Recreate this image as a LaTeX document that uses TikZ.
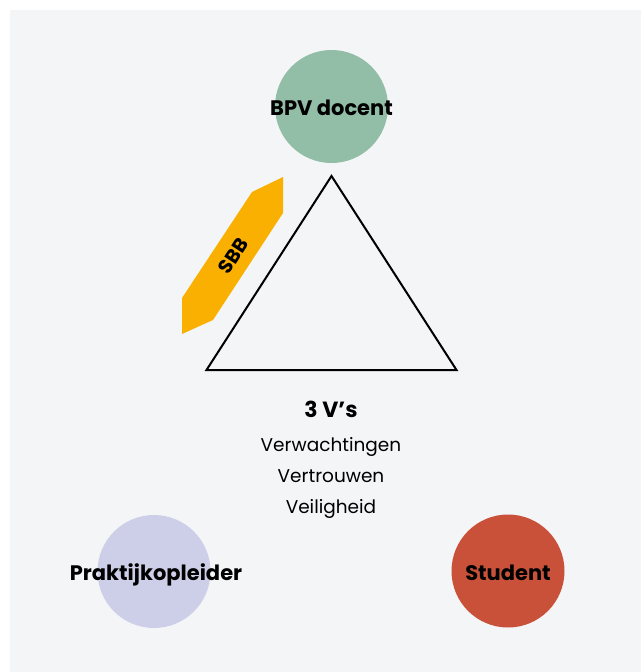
\documentclass[tikz,border=0pt]{standalone}
\usepackage{fontspec}
\setmainfont{Poppins}
\definecolor{bgc}{HTML}{F4F5F7}
\definecolor{greenc}{HTML}{92BDA7}
\definecolor{lavc}{HTML}{CDCFE9}
\definecolor{redc}{HTML}{C9513A}
\definecolor{yelc}{HTML}{F9B000}
\begin{document}
\begin{tikzpicture}[x=1pt,y=-1pt,
  role/.style={circle,minimum size=113pt,inner sep=0pt},
  rolelabel/.style={font=\fontsize{21}{24}\selectfont\bfseries,text=black,anchor=base,inner sep=0pt},
  plain/.style={font=\fontsize{18.5}{22}\selectfont,text=black,anchor=base,inner sep=0pt}]
\useasboundingbox (0,0) rectangle (641,672);
\fill[white] (0,0) rectangle (641,672);
\fill[bgc] (10,10) rectangle (641,672);
% circles
\node[role,fill=greenc] (bpv) at (331.5,106.5) {};
\node[role,fill=lavc] (pk) at (154,571.5) {};
\node[role,fill=redc] (st) at (508,571) {};
\node[rolelabel] (bpvt) at (331.5,115) {BPV docent};
\node[rolelabel] (pkt) at (156,580) {Praktijkopleider};
\node[rolelabel] (stt) at (508,580) {Student};
% triangle
\coordinate (ta) at (331.5,176);
\coordinate (tl) at (206.5,370);
\coordinate (tr) at (456.5,370);
\draw[line width=2pt,line join=miter] (ta) -- (tl) -- (tr) -- cycle;
% SBB
\fill[yelc] (252,192) -- (283,177) -- (283,213) -- (213,320) -- (182,334) -- (182,298) -- cycle;
\node[font=\fontsize{19.5}{22}\selectfont\bfseries,rotate=57,inner sep=0pt] (sbb) at (233,256) {SBB};
% text
\node[font=\fontsize{22}{26}\selectfont\bfseries,anchor=base,inner sep=0pt] (vs) at (331,417) {3 V’s};
\node[plain] (v1) at (331,451) {Verwachtingen};
\node[plain] (v2) at (331,482) {Vertrouwen};
\node[plain] (v3) at (331,513) {Veiligheid};
\end{tikzpicture}
\end{document}
